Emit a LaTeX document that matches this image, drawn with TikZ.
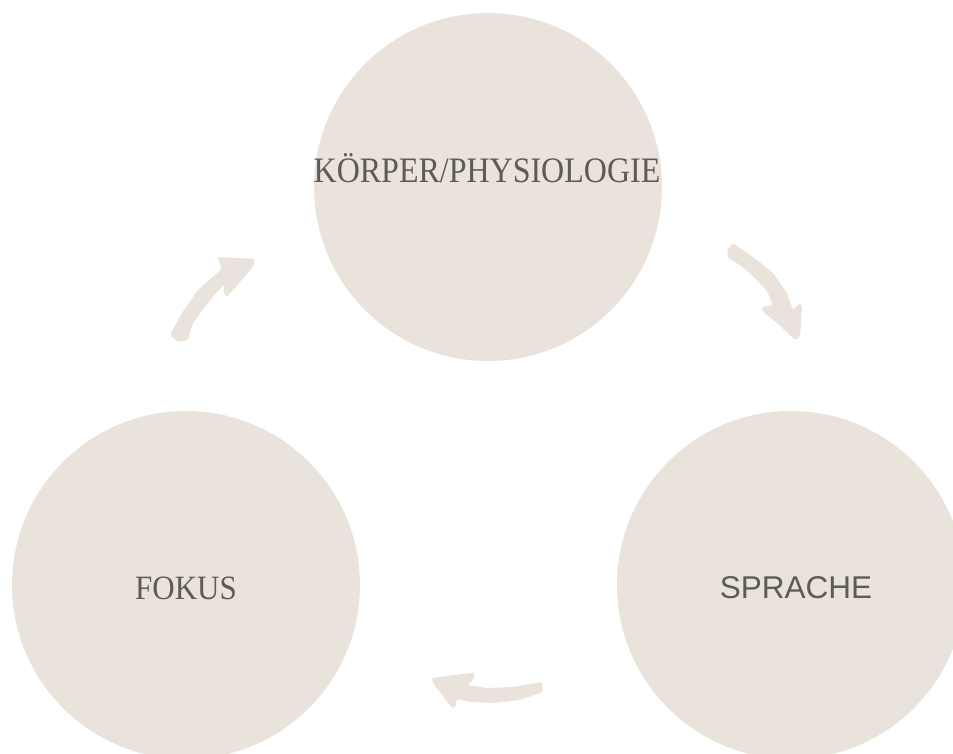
\documentclass[tikz,border=0pt]{standalone}
\usepackage{fontspec}
\setmainfont{Liberation Serif}
\newfontfamily\sansf{Liberation Sans}
\definecolor{beige}{HTML}{E9E3DC}
\definecolor{txt}{HTML}{5E5A57}
\begin{document}
\begin{tikzpicture}[x=1pt,y=-1pt,
  circ/.style={circle,fill=beige,minimum size=348pt,inner sep=0pt},
  lbl/.style={text=txt,inner sep=0pt},
  brush/.style={fill=beige,rounded corners=2pt}]
\useasboundingbox (0,0) rectangle (953,753);
\node[circ] (top) at (488,187) {};
\node[circ] (left) at (186,585) {};
\node[circ] (right) at (791,585) {};
\node[lbl] (toplbl) at (487,168) {\fontsize{32}{34}\selectfont\scalebox{1.0}[1.12]{KÖRPER/PHYSIOLOGIE}};
\node[lbl] (leftlbl) at (186,588) {\fontsize{31}{34}\selectfont\scalebox{1}[1.1]{FOKUS}};
\node[lbl] (rightlbl) at (796,588) {\sansf\fontsize{31.5}{34}\selectfont SPRACHE};
% arrow top-left
\fill[brush] (170,335) -- (182,313) -- (198,290) -- (215,275) -- (222,268)
  -- (217,257) -- (255,259) -- (253,267) -- (233,290) -- (227,297)
  -- (223,292) -- (225,284) -- (216,293) -- (203,309) -- (192,325)
  -- (188,340) -- (178,342) -- cycle;
% arrow top-right
\fill[brush] (727,250) -- (733,243) -- (753,257) -- (773,273) -- (787,293)
  -- (793,310) -- (800,303) -- (802,307) -- (800,337) -- (795,340)
  -- (777,323) -- (763,312) -- (762,307) -- (773,305) -- (767,291)
  -- (752,275) -- (740,265) -- (728,258) -- cycle;
% arrow bottom
\fill[brush] (542,682) -- (543,692) -- (520,700) -- (493,703) -- (470,702)
  -- (457,699) -- (455,708) -- (452,708) -- (433,683) -- (432,678)
  -- (470,673) -- (475,673) -- (473,680) -- (467,685) -- (487,688)
  -- (513,687) -- cycle;
\end{tikzpicture}
\end{document}
